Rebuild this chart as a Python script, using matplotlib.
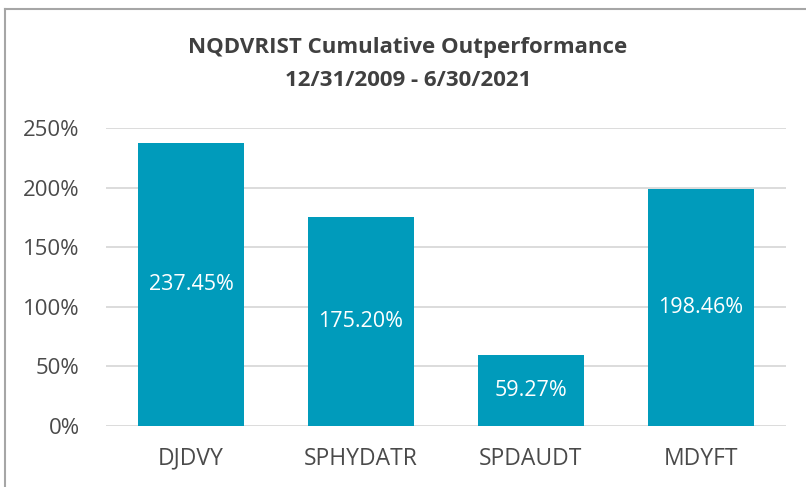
import matplotlib
matplotlib.use("Agg")
import matplotlib.pyplot as plt
from matplotlib.lines import Line2D

categories = ["DJDVY", "SPHYDATR", "SPDAUDT", "MDYFT"]
values = [237.45, 175.20, 59.27, 198.46]
yticks = [0, 50, 100, 150, 200, 250]

bar_color = "#009BBB"
text_color = "#4A4A4A"

plt.rcParams['font.family'] = ['Open Sans', 'DejaVu Sans']

fig = plt.figure(figsize=(8.06, 4.87), dpi=100)
ax = fig.add_axes([106/806, 1 - 426/487, 680/806, 298/487])

bars = ax.bar(categories, values, width=0.62, color=bar_color, zorder=3)
ax.bar_label(bars, labels=["{:.2f}%".format(v) for v in values],
             label_type="center", color="white", fontsize=15.5)

ax.set_xlim(-0.5, len(categories) - 0.5)
ax.set_ylim(0, 250)
ax.set_yticks(yticks)
ax.set_yticklabels(["{}%".format(t) for t in yticks])
ax.grid(axis="y", color="#D9D9D9", linewidth=1.3, zorder=0)
for s in ax.spines.values():
    s.set_visible(False)
ax.tick_params(axis="both", length=0, labelcolor=text_color)
ax.tick_params(axis="y", pad=19, labelsize=16)
ax.tick_params(axis="x", pad=15, labelsize=16.5)

fig.text(408/806, 1 - 48/487, "NQDVRIST Cumulative Outperformance",
         ha="center", va="center", fontsize=16, fontweight="bold", color="#404040")
fig.text(408/806, 1 - 80/487, "12/31/2009 - 6/30/2021",
         ha="center", va="center", fontsize=16, fontweight="bold", color="#404040")

# chart border (only left and top visible in the crop)
fig.add_artist(Line2D([4.5/806, 4.5/806], [0, 1 - 9/487], color="#A6A6A6", lw=1.5))
fig.add_artist(Line2D([4.5/806, 1], [1 - 9/487, 1 - 9/487], color="#A6A6A6", lw=1.5))

plt.savefig("out.png", dpi=100)
